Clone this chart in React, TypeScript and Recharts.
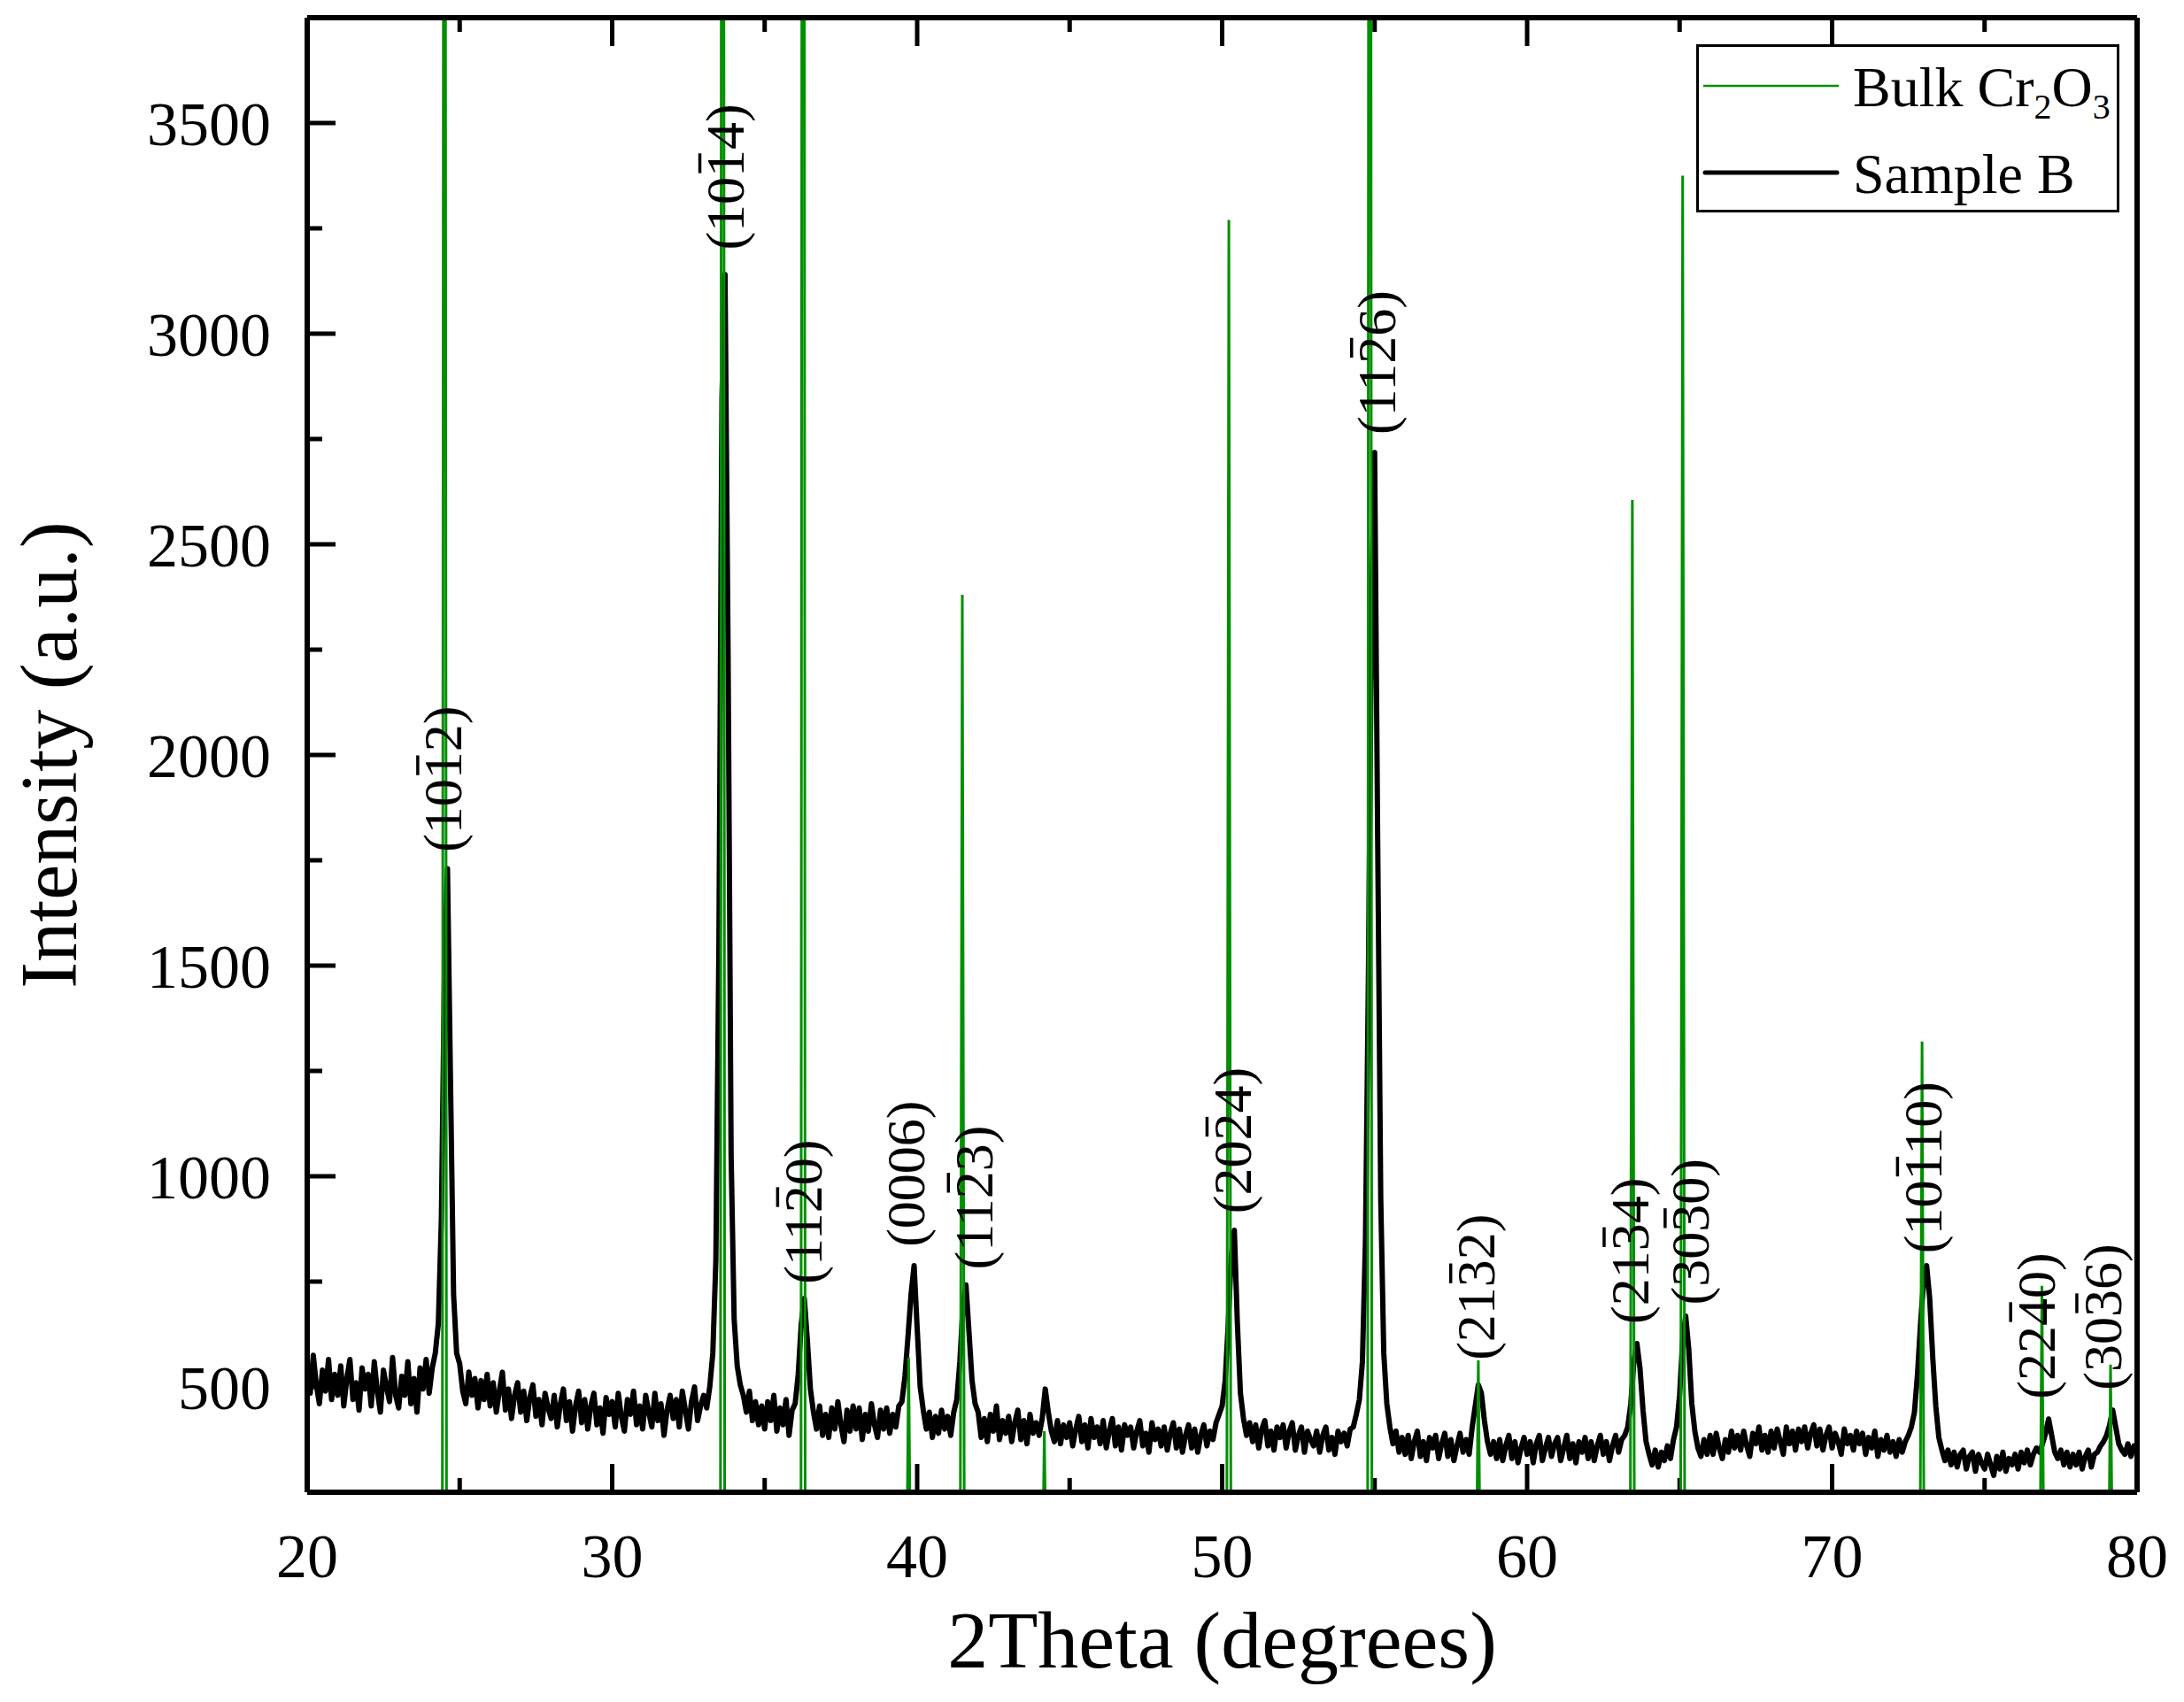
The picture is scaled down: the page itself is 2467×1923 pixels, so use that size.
import React from "react";
import { LineChart, Line, XAxis, YAxis, ReferenceDot, Legend } from "recharts";

const FONT = '"Liberation Serif", "Times New Roman", serif';
const GREEN = "#008f00";
const W = 2451;
const H = 1907;

// Sample B, 2theta 20..80 at 0.1 deg steps, one row per degree
const sampleB20 = [
  555, 485, 575, 505, 460, 540, 490, 565, 470, 530,
  480, 550, 455, 520, 565, 470, 510, 445, 545, 495,
  530, 455, 560, 490, 440, 540, 500, 465, 570, 480,
  450, 525, 480, 560, 460, 520, 440, 545, 495, 565,
  485, 545, 580, 650, 900, 1480, 1730, 1220, 720, 580,
  555, 490, 460, 535, 480, 520, 450, 515, 470, 530,
  455, 510, 440, 490, 535, 445, 495, 425, 480, 510,
  440, 490, 420, 475, 505, 430, 470, 410, 485, 450,
  425, 480, 405, 460, 495, 420, 465, 395, 455, 490,
  415, 470, 400, 455, 485, 410, 450, 390, 475, 435,
];
const sampleB30 = [
  465, 405, 485, 430, 395, 470, 435, 490, 410, 455,
  400, 480, 440, 405, 485, 420, 460, 385, 445, 480,
  425, 470, 405, 490, 445, 400, 465, 500, 420, 455,
  480, 450, 500, 580, 800, 1550, 2850, 3140, 2250, 1050,
  660, 550, 505, 480, 440, 490, 420, 465, 410, 455,
  400, 465, 420, 480, 395, 450, 410, 470, 385, 445,
  460, 530, 650, 710, 610, 495, 440, 400, 455, 385,
  435, 380, 450, 400, 465, 410, 370, 445, 395, 455,
  400, 450, 375, 435, 395, 460, 410, 380, 445, 400,
  450, 390, 435, 405, 455, 465, 525, 620, 720, 788,
];
const sampleB40 = [
  640, 500, 445, 400, 440, 380, 430, 390, 445, 400,
  430, 385, 440, 470, 560, 690, 742, 630, 515, 460,
  440, 380, 425, 370, 435, 395, 455, 375, 420, 390,
  430, 370, 415, 445, 375, 420, 365, 435, 390, 415,
  385, 425, 495, 440, 395, 370, 420, 365, 410, 380,
  415, 360, 400, 430, 370, 410, 355, 425, 380, 405,
  365, 420, 355, 395, 425, 360, 405, 350, 410, 385,
  405, 355, 395, 420, 360, 390, 345, 415, 375, 400,
  360, 405, 350, 390, 415, 355, 400, 345, 385, 410,
  355, 400, 345, 385, 410, 360, 395, 375, 415, 435,
];
const sampleB50 = [
  455, 515, 650, 810, 872, 650, 485, 425, 385, 415,
  370, 410, 355, 400, 420, 360, 395, 350, 405, 380,
  410, 355, 395, 415, 350, 385, 405, 345, 395, 375,
  360, 395, 345, 385, 405, 350, 380, 340, 395, 370,
  390, 360, 400, 405, 435, 470, 560, 850, 1500, 2350,
  2718, 1800, 950, 580, 460, 405, 365, 395, 345, 380,
  340, 385, 330, 370, 395, 335, 370, 325, 380, 355,
  385, 330, 365, 390, 335, 375, 325, 360, 390, 345,
  375, 340, 405, 455, 505, 485, 420, 370, 340, 370,
  330, 375, 325, 360, 385, 330, 370, 320, 355, 380,
];
const sampleB60 = [
  340, 370, 320, 365, 385, 325, 355, 380, 335, 365,
  380, 325, 355, 385, 330, 365, 320, 370, 345, 380,
  330, 370, 325, 360, 385, 340, 370, 325, 360, 385,
  345, 375, 385, 405, 460, 560, 603, 545, 445, 370,
  340, 315, 350, 310, 345, 325, 360, 330, 375, 405,
  480, 610, 668, 590, 460, 395, 355, 335, 375, 340,
  385, 340, 390, 355, 330, 375, 345, 395, 355, 385,
  350, 395, 360, 335, 390, 365, 405, 350, 385, 345,
  395, 355, 400, 370, 340, 405, 365, 395, 350, 400,
  370, 405, 355, 390, 410, 360, 400, 350, 385, 405,
];
const sampleB70 = [
  355, 390, 370, 340, 400, 365, 385, 350, 395, 365,
  390, 340, 380, 355, 395, 335, 375, 350, 385, 345,
  370, 335, 375, 345, 370, 385, 405, 440, 530, 650,
  750, 788, 710, 570, 455, 380, 350, 325, 350, 315,
  345, 310, 340, 350, 305, 335, 345, 300, 340, 320,
  305, 340, 315, 290, 335, 305, 345, 300, 330, 315,
  340, 305, 345, 320, 350, 315, 340, 355, 345, 365,
  390, 424, 385, 345, 330, 350, 315, 345, 310, 340,
  315, 345, 305, 335, 350, 310, 340, 345, 360, 370,
  385, 410, 445, 405, 365, 350, 340, 365, 335, 360,
  345,
];

// Bulk Cr2O3 reference reflections
const bulkPos = [24.5, 33.62, 36.26, 39.72, 41.48, 44.17, 50.22, 54.84, 58.4, 63.45, 65.1, 72.95, 76.88, 79.13];
const bulkInt = [7500, 10000, 9500, 570, 2380, 395, 3270, 9000, 563, 2605, 3375, 1320, 740, 553];

// Miller index annotations; "-" marks a barred (negative) index
const hklText = [
  "(10-12)", "(10-14)", "(11-20)", "(0006)", "(11-23)", "(20-24)", "(11-26)",
  "(21-32)", "(21-34)", "(30-30)", "(10-110)", "(22-40)", "(30-36)",
];
const hklX = [24.6, 33.85, 36.4, 39.77, 42.0, 50.48, 55.22, 58.47, 63.5, 65.5, 73.12, 76.83, 79.0];
const hklY = [1943, 3372, 918, 1006, 952, 1085, 2934, 737, 823, 868, 1023, 645, 666];

const majorX = [20, 30, 40, 50, 60, 70, 80];
const minorX = [25, 35, 45, 55, 65, 75];
const majorY = [500, 1000, 1500, 2000, 2500, 3000, 3500];
const minorY = [750, 1250, 1750, 2250, 2750, 3250];
const Y_MIN = 250;
const Y_MAX = 3750;

const MARGIN = { top: 12, right: 45, bottom: 0, left: 0 };
const X_AXIS_H = 229;
// inward tick lengths (px) expressed in y-units for the top/bottom frame ticks
const PX_TO_Y = (Y_MAX - Y_MIN) / (H - MARGIN.top - X_AXIS_H);
const MAJOR_LEN = 32 * PX_TO_Y;
const MINOR_LEN = 16 * PX_TO_Y;

const sampleData = [...sampleB20, ...sampleB30, ...sampleB40, ...sampleB50, ...sampleB60, ...sampleB70].map(
  (v, i) => ({ x: Math.round((20 + i * 0.1) * 10) / 10, y: v })
);
const bulkData = bulkPos.flatMap((p, i) => [
  { x: p - 0.07, y: 0 },
  { x: p, y: bulkInt[i] },
  { x: p + 0.07, y: 0 },
]);
// short vertical strokes (separated by gaps) for the inward frame ticks
const frameTickData = [
  ...minorX.flatMap((x) => [{ x, y: Y_MIN }, { x, y: Y_MIN + MINOR_LEN }, { x, y: null }]),
  ...majorX.slice(1, -1).flatMap((x) => [{ x, y: Y_MAX }, { x, y: Y_MAX - MAJOR_LEN }, { x, y: null }]),
  ...minorX.flatMap((x) => [{ x, y: Y_MAX }, { x, y: Y_MAX - MINOR_LEN }, { x, y: null }]),
];

const TICK_LINE = { stroke: "#000", strokeWidth: 5 };
const AXIS_LINE = { stroke: "#000", strokeWidth: 6 };
const NoTick = () => <g />;

const LABEL_FS = 62;
// Liberation Serif advances: digits 0.5em, parentheses 0.333em
const DIGIT_EM = 0.5;
const PAREN_EM = 0.333;

function HklLabel({ viewBox, text }: any) {
  const cx = viewBox.x + viewBox.width / 2;
  const cy = viewBox.y + viewBox.height / 2;
  const digits: string[] = [];
  const bars: number[] = [];
  for (let i = 1; i < text.length - 1; i++) {
    if (text[i] === "-") {
      bars.push(digits.length);
      continue;
    }
    digits.push(text[i]);
  }
  const fs = LABEL_FS;
  const total = (2 * PAREN_EM + digits.length * DIGIT_EM) * fs;
  const x0 = cx - total / 2;
  const base = cy + 16;
  return (
    <g transform={`rotate(-90 ${cx} ${cy})`}>
      <text x={x0} y={base} fontFamily={FONT} fontSize={fs} fill="#000">
        {"(" + digits.join("") + ")"}
      </text>
      {bars.map((k) => {
        const left = x0 + (PAREN_EM + k * DIGIT_EM) * fs;
        return (
          <line
            key={k}
            x1={left + 0.07 * fs}
            x2={left + 0.43 * fs}
            y1={base - 0.8 * fs}
            y2={base - 0.8 * fs}
            stroke="#000"
            strokeWidth={3.5}
          />
        );
      })}
    </g>
  );
}

function LegendBox() {
  return (
    <svg width={478} height={190} style={{ display: "block" }}>
      <rect x={1.5} y={1.5} width={475} height={187} fill="#fff" stroke="#000" strokeWidth={3} />
      <line x1={8} x2={161} y1={47} y2={47} stroke={GREEN} strokeWidth={2.5} />
      <line x1={10} x2={159} y1={145} y2={145} stroke="#000" strokeWidth={5} strokeLinecap="round" />
      <text x={177} y={70} fontFamily={FONT} fontSize={64} fill="#000">
        Bulk Cr
        <tspan fontSize={40} dy={14}>2</tspan>
        <tspan dy={-14}>O</tspan>
        <tspan fontSize={40} dy={14}>3</tspan>
      </text>
      <text x={177} y={168} fontFamily={FONT} fontSize={64} fill="#000">
        Sample B
      </text>
    </svg>
  );
}

export default function App() {
  return (
    <div style={{ width: W, height: H, background: "#fff" }}>
      <LineChart width={W} height={H} margin={MARGIN}>
        <XAxis
          type="number"
          dataKey="x"
          domain={[20, 80]}
          ticks={majorX}
          interval={0}
          allowDataOverflow
          height={X_AXIS_H}
          axisLine={AXIS_LINE}
          tickLine={TICK_LINE}
          tickSize={-32}
          tickMargin={78}
          tick={{ fontFamily: FONT, fontSize: 70, fill: "#000" }}
          label={({ viewBox }: any) => (
            <text
              x={viewBox.x + viewBox.width / 2}
              y={viewBox.y + 198}
              textAnchor="middle"
              fontFamily={FONT}
              fontSize={92}
              fill="#000"
            >
              2Theta (degrees)
            </text>
          )}
        />
        <XAxis xAxisId="top" dataKey="x" type="number" domain={[20, 80]} ticks={majorX} interval={0} allowDataOverflow
          orientation="top" mirror height={1} tick={NoTick} tickLine={false} axisLine={AXIS_LINE} />
        <YAxis
          type="number"
          domain={[Y_MIN, Y_MAX]}
          ticks={majorY}
          interval={0}
          allowDataOverflow
          width={339}
          axisLine={AXIS_LINE}
          tickLine={false}
          tickSize={0}
          tickMargin={41}
          tick={{ fontFamily: FONT, fontSize: 70, fill: "#000" }}
          label={({ viewBox }: any) => {
            const bx = 78;
            const cy = viewBox.y + viewBox.height / 2;
            return (
              <text
                x={bx}
                y={cy}
                transform={`rotate(-90 ${bx} ${cy})`}
                textAnchor="middle"
                fontFamily={FONT}
                fontSize={90}
                fill="#000"
              >
                Intensity (a.u.)
              </text>
            );
          }}
        />
        <YAxis yAxisId="lMaj" type="number" domain={[Y_MIN, Y_MAX]} ticks={majorY} interval={0} allowDataOverflow
          orientation="left" mirror width={1} tick={NoTick} tickSize={32} axisLine={false} tickLine={TICK_LINE} />
        <YAxis yAxisId="lMin" type="number" domain={[Y_MIN, Y_MAX]} ticks={minorY} interval={0} allowDataOverflow
          orientation="left" mirror width={1} tick={NoTick} tickSize={16} axisLine={false} tickLine={TICK_LINE} />
        <YAxis yAxisId="right" type="number" domain={[Y_MIN, Y_MAX]} ticks={majorY} allowDataOverflow
          orientation="right" mirror width={1} tick={NoTick} tickLine={false} axisLine={AXIS_LINE} />

        <Line
          data={frameTickData}
          dataKey="y"
          type="linear"
          stroke="#000"
          strokeWidth={5}
          connectNulls={false}
          dot={false}
          activeDot={false}
          isAnimationActive={false}
          legendType="none"
        />
        <Line
          data={sampleData}
          dataKey="y"
          type="linear"
          stroke="#000"
          strokeWidth={6}
          strokeLinejoin="round"
          dot={false}
          activeDot={false}
          isAnimationActive={false}
        />
        <Line
          data={bulkData}
          dataKey="y"
          type="linear"
          stroke={GREEN}
          strokeWidth={3}
          dot={false}
          activeDot={false}
          isAnimationActive={false}
        />

        {hklText.map((t, i) => (
          <ReferenceDot
            key={t}
            x={hklX[i]}
            y={hklY[i]}
            r={0}
            fill="none"
            stroke="none"
            ifOverflow="visible"
            label={(props: any) => <HklLabel {...props} text={t} />}
          />
        ))}

        <Legend
          layout="horizontal"
          verticalAlign="middle"
          align="center"
          wrapperStyle={{ left: 1908, top: 42, width: 478, height: 190 }}
          content={() => <LegendBox />}
        />
      </LineChart>
    </div>
  );
}
